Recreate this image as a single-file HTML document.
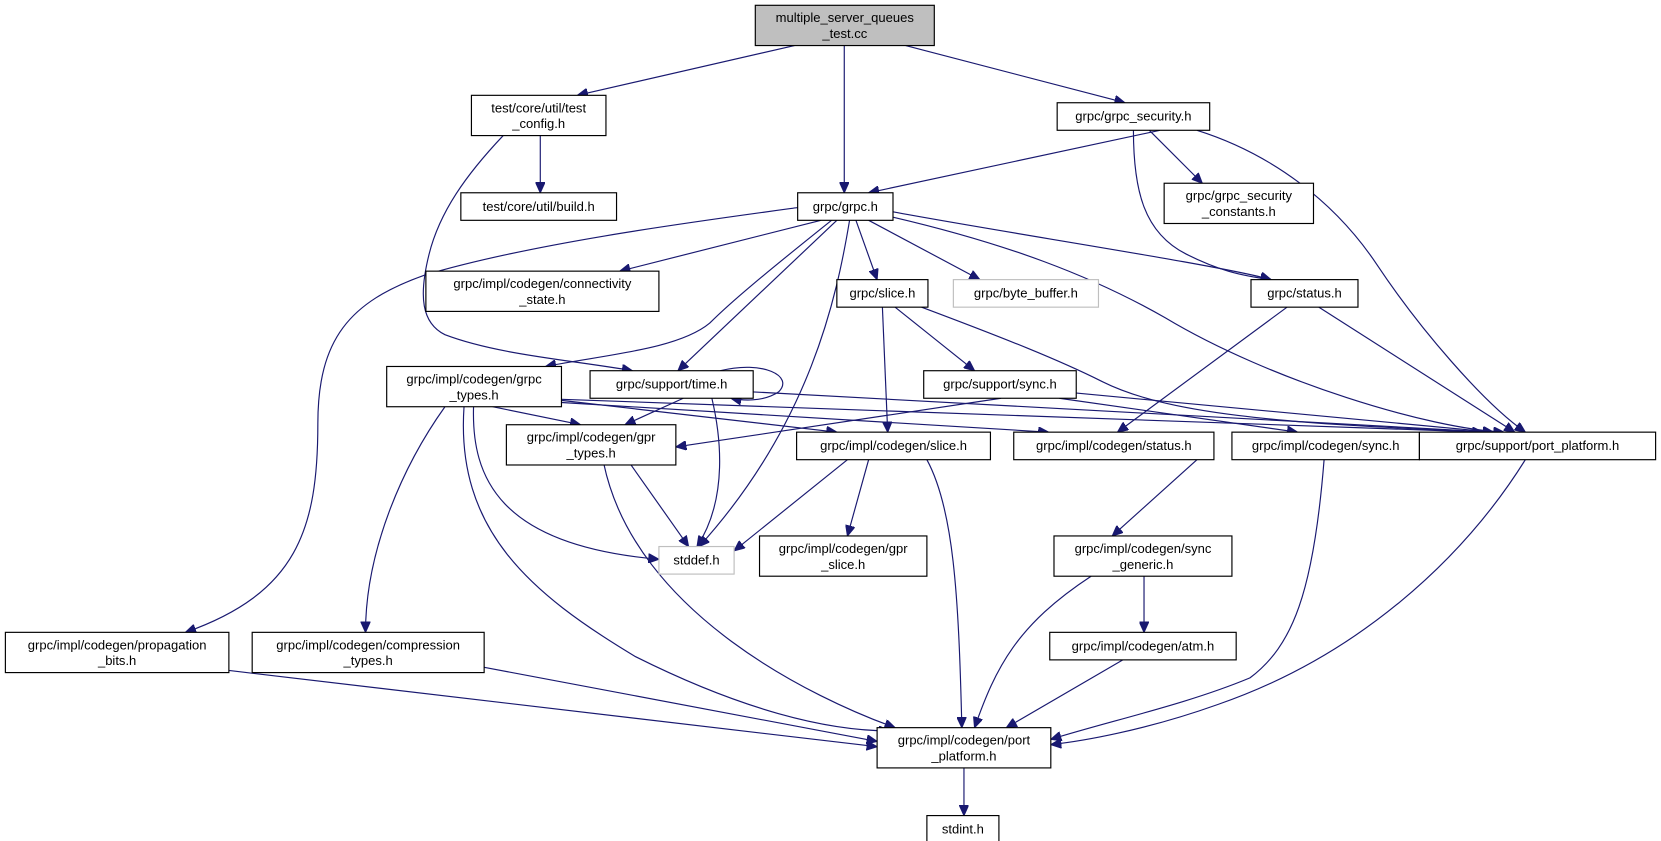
<!DOCTYPE html>
<html><head><meta charset="utf-8"><style>
html,body{margin:0;padding:0;background:#fff;}
svg{display:block}
text{font-family:"Liberation Sans",sans-serif;font-size:12.3px;fill:#000;text-anchor:middle}
.n{fill:#fff;stroke:#000;stroke-width:1.1}
.g{fill:#fff;stroke:#bfbfbf;stroke-width:1.1}
.e{fill:none;stroke:#191970;stroke-width:1.1}
</style></head><body>
<svg width="1661" height="841" viewBox="0 0 1568 794" xmlns="http://www.w3.org/2000/svg">
<defs><marker id="a" markerUnits="userSpaceOnUse" markerWidth="11" markerHeight="9" refX="10" refY="4.5" orient="auto"><path d="M0,0 L10,4.5 L0,9 z" fill="#191970" stroke="#191970"/></marker></defs>
<g marker-end="url(#a)">
<path class="e" d="M750,43 L545,90"/>
<path class="e" d="M797,43 L797,182"/>
<path class="e" d="M855,43 L1062,97"/>
<path class="e" d="M510,128 L510,182"/>
<path class="e" d="M475,128 C440,165 415,200 405,240 C395,280 398,305 420,316 C470,335 540,340 597,350"/>
<path class="e" d="M1095,123 L820,182"/>
<path class="e" d="M1085,123 L1135,173"/>
<path class="e" d="M1070,123 C1070,180 1080,220 1120,240 C1150,255 1170,260 1200,264"/>
<path class="e" d="M1130,123 C1200,145 1260,190 1300,250 C1340,310 1400,380 1440,408"/>
<path class="e" d="M753,196 C650,210 500,230 400,260 C330,285 300,320 300,400 C300,500 280,560 175,597"/>
<path class="e" d="M775,208 L585,256"/>
<path class="e" d="M785,208 C720,260 690,285 670,305 C640,330 570,335 515,346"/>
<path class="e" d="M790,208 L640,350"/>
<path class="e" d="M802,208 C790,280 765,400 660,516"/>
<path class="e" d="M808,208 L828,264"/>
<path class="e" d="M820,208 L925,264"/>
<path class="e" d="M843,200 C950,220 1150,250 1200,264"/>
<path class="e" d="M843,205 C950,230 1030,260 1100,300 C1200,360 1350,405 1420,408"/>
<path class="e" d="M833,290 L838,408"/>
<path class="e" d="M845,290 L920,350"/>
<path class="e" d="M870,290 C950,320 1000,340 1040,360 C1100,390 1200,400 1410,408"/>
<path class="e" d="M1215,290 L1055,408"/>
<path class="e" d="M1245,290 L1430,408"/>
<path class="e" d="M945,376 L638,422"/>
<path class="e" d="M1000,376 L1225,408"/>
<path class="e" d="M1015,371 L1410,408"/>
<path class="e" d="M680,350 C720,340 750,355 735,370 C720,380 700,378 690,376"/>
<path class="e" d="M645,376 L590,401"/>
<path class="e" d="M672,376 C680,410 688,470 658,516"/>
<path class="e" d="M711,370 L1410,408"/>
<path class="e" d="M465,384 L548,401"/>
<path class="e" d="M530,378 L790,408"/>
<path class="e" d="M530,380 L990,408"/>
<path class="e" d="M530,377 L1400,408"/>
<path class="e" d="M447,384 C445,450 470,515 622,528"/>
<path class="e" d="M420,384 C380,440 345,520 345,597"/>
<path class="e" d="M438,384 C430,500 500,560 600,620 C700,670 780,690 840,690"/>
<path class="e" d="M595,438 L650,516"/>
<path class="e" d="M570,438 C600,580 770,660 845,687"/>
<path class="e" d="M800,434 L693,520"/>
<path class="e" d="M820,434 L800,506"/>
<path class="e" d="M875,434 C900,480 905,560 908,687"/>
<path class="e" d="M1130,434 L1050,506"/>
<path class="e" d="M1250,434 C1240,560 1220,610 1180,640 C1120,665 1050,680 992,698"/>
<path class="e" d="M1440,434 C1380,530 1280,620 1150,665 C1080,690 1020,700 992,703"/>
<path class="e" d="M1030,544 C960,590 940,630 920,687"/>
<path class="e" d="M1080,544 L1080,597"/>
<path class="e" d="M1060,623 L950,687"/>
<path class="e" d="M216,633 L828,705"/>
<path class="e" d="M457,630 L828,700"/>
<path class="e" d="M910,725 L910,770"/>
</g>
<rect x="713" y="5" width="169" height="38" fill="#bfbfbf" stroke="#000" stroke-width="1.1"/>
<text x="797.5" y="21">multiple_server_queues</text><text x="797.5" y="36">_test.cc</text>
<rect class="n" x="445" y="90" width="127" height="38"/><text x="508.5" y="106">test/core/util/test</text><text x="508.5" y="121">_config.h</text>
<rect class="n" x="435" y="182" width="147" height="26"/><text x="508.5" y="199">test/core/util/build.h</text>
<rect class="n" x="998" y="97" width="144" height="26"/><text x="1070" y="114">grpc/grpc_security.h</text>
<rect class="n" x="753" y="182" width="90" height="26"/><text x="798" y="199">grpc/grpc.h</text>
<rect class="n" x="1099" y="173" width="141" height="38"/><text x="1169.5" y="189">grpc/grpc_security</text><text x="1169.5" y="204">_constants.h</text>
<rect class="n" x="402" y="256" width="220" height="38"/><text x="512" y="272">grpc/impl/codegen/connectivity</text><text x="512" y="287">_state.h</text>
<rect class="n" x="790" y="264" width="86" height="26"/><text x="833" y="281">grpc/slice.h</text>
<rect class="g" x="900" y="264" width="137" height="26"/><text x="968.5" y="281">grpc/byte_buffer.h</text>
<rect class="n" x="1181" y="264" width="101" height="26"/><text x="1231.5" y="281">grpc/status.h</text>
<rect class="n" x="365" y="346" width="165" height="38"/><text x="447.5" y="362">grpc/impl/codegen/grpc</text><text x="447.5" y="377">_types.h</text>
<rect class="n" x="557" y="350" width="154" height="26"/><text x="634" y="367">grpc/support/time.h</text>
<rect class="n" x="872" y="350" width="144" height="26"/><text x="944" y="367">grpc/support/sync.h</text>
<rect class="n" x="478" y="401" width="160" height="38"/><text x="558" y="417">grpc/impl/codegen/gpr</text><text x="558" y="432">_types.h</text>
<rect class="n" x="752" y="408" width="183" height="26"/><text x="843.5" y="425">grpc/impl/codegen/slice.h</text>
<rect class="n" x="957" y="408" width="189" height="26"/><text x="1051.5" y="425">grpc/impl/codegen/status.h</text>
<rect class="n" x="1163" y="408" width="177" height="26"/><text x="1251.5" y="425">grpc/impl/codegen/sync.h</text>
<rect class="n" x="1340" y="408" width="223" height="26"/><text x="1451.5" y="425">grpc/support/port_platform.h</text>
<rect class="g" x="622" y="516" width="71" height="26"/><text x="657.5" y="533">stddef.h</text>
<rect class="n" x="717" y="506" width="158" height="38"/><text x="796" y="522">grpc/impl/codegen/gpr</text><text x="796" y="537">_slice.h</text>
<rect class="n" x="995" y="506" width="168" height="38"/><text x="1079" y="522">grpc/impl/codegen/sync</text><text x="1079" y="537">_generic.h</text>
<rect class="n" x="5" y="597" width="211" height="38"/><text x="110.5" y="613">grpc/impl/codegen/propagation</text><text x="110.5" y="628">_bits.h</text>
<rect class="n" x="238" y="597" width="219" height="38"/><text x="347.5" y="613">grpc/impl/codegen/compression</text><text x="347.5" y="628">_types.h</text>
<rect class="n" x="991" y="597" width="176" height="26"/><text x="1079" y="614">grpc/impl/codegen/atm.h</text>
<rect class="n" x="828" y="687" width="164" height="38"/><text x="910" y="703">grpc/impl/codegen/port</text><text x="910" y="718">_platform.h</text>
<rect class="n" x="875" y="770" width="68" height="26"/><text x="909" y="787">stdint.h</text>
</svg>
</body></html>
